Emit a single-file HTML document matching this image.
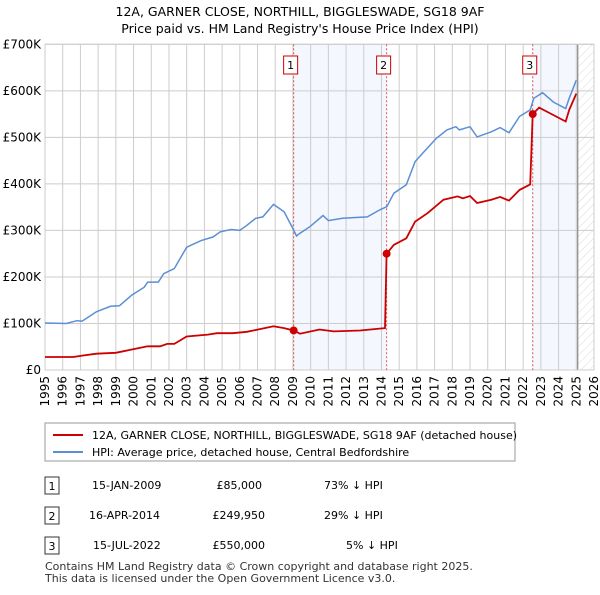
<!DOCTYPE html>
<html><head><meta charset="utf-8"><style>
body{margin:0;background:#fff;font-family:"Liberation Sans",sans-serif;}
svg text{font-family:"DejaVu Sans","Liberation Sans",sans-serif;}
</style></head><body>
<svg id="c" width="600" height="590" xmlns="http://www.w3.org/2000/svg">
<defs><pattern id="hatch" width="6" height="6" patternUnits="userSpaceOnUse" patternTransform="rotate(45)"><line x1="0" y1="0" x2="0" y2="6" stroke="#d0d0d0" stroke-width="0.8"/></pattern></defs>
<text x="300" y="16" text-anchor="middle" font-size="12.5">12A, GARNER CLOSE, NORTHILL, BIGGLESWADE, SG18 9AF</text>
<text x="300" y="33" text-anchor="middle" font-size="12.5">Price paid vs. HM Land Registry's House Price Index (HPI)</text>
<g id="plot"></g>
<g>
<rect x="45" y="423" width="470" height="38" fill="#fff" stroke="#999"/>
<line x1="53" y1="435" x2="83" y2="435" stroke="#cc0000" stroke-width="2"/>
<text x="92" y="439" font-size="11">12A, GARNER CLOSE, NORTHILL, BIGGLESWADE, SG18 9AF (detached house)</text>
<line x1="53" y1="452" x2="83" y2="452" stroke="#5b8fd4" stroke-width="2"/>
<text x="92" y="456" font-size="11">HPI: Average price, detached house, Central Bedfordshire</text>
</g>
<g font-size="11">
<rect x="45" y="477" width="14" height="17" fill="#fff" stroke="#333"/><text x="52" y="490" text-anchor="middle">1</text>
<text x="92" y="489">15-JAN-2009</text><text x="262" y="489" text-anchor="end">£85,000</text><text x="324" y="489">73% ↓ HPI</text>
<rect x="45" y="507" width="14" height="17" fill="#fff" stroke="#333"/><text x="52" y="520" text-anchor="middle">2</text>
<text x="89" y="519">16-APR-2014</text><text x="265" y="519" text-anchor="end">£249,950</text><text x="324" y="519">29% ↓ HPI</text>
<rect x="45" y="537" width="14" height="17" fill="#fff" stroke="#333"/><text x="52" y="550" text-anchor="middle">3</text>
<text x="93" y="549">15-JUL-2022</text><text x="265" y="549" text-anchor="end">£550,000</text><text x="346" y="549">5% ↓ HPI</text>
</g>
<text x="45" y="570" font-size="11" fill="#333">Contains HM Land Registry data © Crown copyright and database right 2025.</text>
<text x="45" y="582" font-size="11" fill="#333">This data is licensed under the Open Government Licence v3.0.</text>
</svg>
<script>
const hpiYears=[1995.0,1996.2,1996.8,1997.1,1997.9,1998.7,1999.2,1999.9,2000.6,2000.8,2001.4,2001.7,2002.3,2003.0,2003.8,2004.5,2004.9,2005.5,2006.0,2006.4,2006.9,2007.3,2007.9,2008.5,2009.0,2009.2,2009.4,2009.96,2010.7,2011.0,2011.8,2013.2,2013.9,2014.3,2014.7,2015.4,2015.9,2016.4,2017.1,2017.7,2018.2,2018.4,2019.0,2019.4,2020.2,2020.7,2021.2,2021.8,2022.4,2022.6,2023.1,2023.7,2024.4,2024.6,2025.0];
const hpiValues=[101,100,106,105,125,137,138,161,178,189,189,207,218,264,278,286,297,302,300,311,326,329,356,340,304,288,294,308,332,321,326,329,344,351,380,398,448,469,498,516,523,516,523,501,512,521,510,545,559,584,596,576,562,584,623];
const priceYears=[1995.0,1996.6,1997.1,1997.9,1999.0,1999.9,2000.8,2001.5,2001.9,2002.3,2003.0,2004.2,2004.7,2005.6,2006.4,2006.9,2007.9,2008.5,2009.04,2009.4,2010.5,2011.3,2012.8,2014.2,2014.29,2014.7,2015.4,2015.9,2016.6,2017.5,2018.3,2018.6,2019.0,2019.4,2020.2,2020.7,2021.2,2021.8,2022.4,2022.54,2022.9,2023.7,2024.4,2024.6,2025.0];
const priceValues=[28,28,31,35,37,44,51,51,56,56,72,76,79,79,82,86,94,90,85,78,87,83,85,90,250,269,283,319,337,366,373,369,374,359,366,372,364,387,399,550,564,548,534,559,594];
const saleYears=[2009.04,2014.29,2022.54];
const saleValues=[85,249.95,550];
const saleLabels=["1","2","3"];
const yTicks=[0,100,200,300,400,500,600,700];
const yTickLabels=["£0","£100K","£200K","£300K","£400K","£500K","£600K","£700K"];
const xTicks=[1995,1996,1997,1998,1999,2000,2001,2002,2003,2004,2005,2006,2007,2008,2009,2010,2011,2012,2013,2014,2015,2016,2017,2018,2019,2020,2021,2022,2023,2024,2025,2026];
const dataEnd=2025.08;

const X0=45,X1=594,Y0=370,Y1=44.3;
const x=y=>X0+(y-1995)/(2026-1995)*(X1-X0);
const yv=v=>Y0-v/700*(Y0-Y1);
const NS="http://www.w3.org/2000/svg";
const g=document.getElementById('plot');
function mk(t,a){const e=document.createElementNS(NS,t);for(const k in a)e.setAttribute(k,a[k]);g.appendChild(e);return e;}
let e;
e=mk('rect',{x:x(saleYears[0]),y:Y1,width:x(saleYears[1])-x(saleYears[0]),height:Y0-Y1,fill:'#f4f7fe'});

e=mk('rect',{x:x(saleYears[2]),y:Y1,width:x(dataEnd)-x(saleYears[2]),height:Y0-Y1,fill:'#f4f7fe'});

e=mk('rect',{x:x(dataEnd),y:Y1,width:X1-x(dataEnd),height:Y0-Y1,fill:'url(#hatch)'});

xTicks.forEach(t=>{e=mk('line',{x1:x(t),x2:x(t),y1:Y1,y2:Y0,stroke:'#ccc','stroke-width':1});

e=mk('text',{x:0,y:0,'font-size':12,'text-anchor':'end',transform:`translate(${x(t)+4},${Y0+6}) rotate(-90)`});e.textContent=t;
});
yTicks.forEach((t,i)=>{e=mk('line',{x1:X0,x2:X1,y1:yv(t),y2:yv(t),stroke:'#ccc','stroke-width':1});

e=mk('text',{x:X0-4,y:yv(t)+4,'font-size':12,'text-anchor':'end'});e.textContent=yTickLabels[i];
});
e=mk('line',{x1:x(dataEnd),x2:x(dataEnd),y1:Y1,y2:Y0,stroke:'#888','stroke-width':1.2});

e=mk('rect',{x:X0,y:Y1,width:X1-X0,height:Y0-Y1,fill:'none',stroke:'#ccc'});

saleYears.forEach((s,i)=>{e=mk('line',{x1:x(s),x2:x(s),y1:Y1,y2:Y0,stroke:'#e05050','stroke-width':1,'stroke-dasharray':'2,2'});
});
const pts=(xs,vs)=>xs.map((t,i)=>x(t).toFixed(1)+','+yv(vs[i]).toFixed(1)).join(' ');
e=mk('polyline',{points:pts(hpiYears,hpiValues),fill:'none',stroke:'#5b8fd4','stroke-width':1.5});

e=mk('polyline',{points:pts(priceYears,priceValues),fill:'none',stroke:'#cc0000','stroke-width':1.8});

saleYears.forEach((s,i)=>{e=mk('circle',{cx:x(s),cy:yv(saleValues[i]),r:4,fill:'#cc0000'});

e=mk('rect',{x:x(s)-10,y:56,width:14,height:18,fill:'#fff',stroke:'#cc0000'});

e=mk('text',{x:x(s)-3,y:69,'font-size':11,'text-anchor':'middle'});e.textContent=saleLabels[i];
});
</script>
</body></html>
